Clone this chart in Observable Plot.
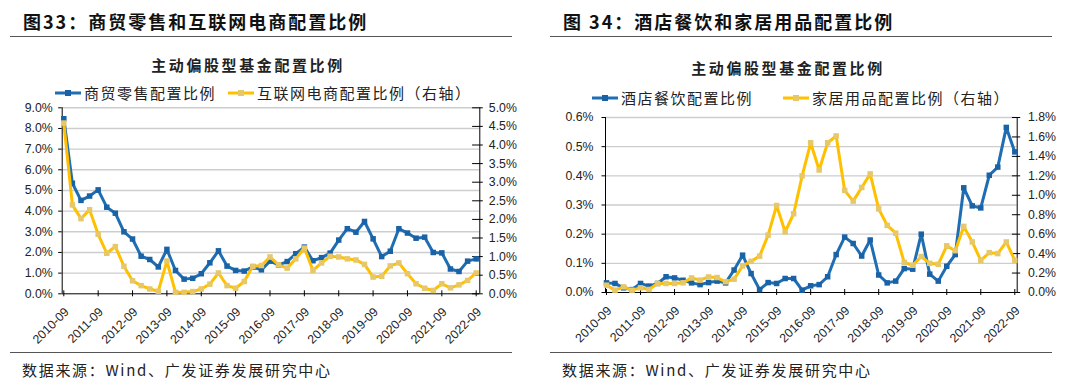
<!DOCTYPE html>
<html><head><meta charset="utf-8">
<script src="https://cdn.jsdelivr.net/npm/d3@7"></script>
<script src="https://cdn.jsdelivr.net/npm/@observablehq/plot@0.6"></script>
<style>
html,body{margin:0;padding:0;background:#fff;}
body{width:1080px;height:392px;overflow:hidden;position:relative;font-family:"Noto Sans CJK SC","Noto Sans",sans-serif;color:#222;}
.panel{position:absolute;top:0;width:540px;height:392px;}
.title{position:absolute;left:23px;top:9px;font-size:18px;line-height:24px;font-weight:700;color:#111;letter-spacing:2px;white-space:nowrap;}
.rule{position:absolute;left:10px;width:502px;height:0;border-top:1.6px solid #555;}
.sub{position:absolute;left:0;width:496px;text-align:center;font-size:15px;line-height:20px;font-weight:600;letter-spacing:2.6px;white-space:nowrap;}
.leg{position:absolute;font-size:15px;line-height:20px;letter-spacing:1.5px;white-space:nowrap;display:flex;align-items:center;}
.leg svg{margin-right:3px;}
.src{position:absolute;left:22px;top:360px;font-size:15px;line-height:20px;letter-spacing:1.7px;white-space:nowrap;color:#222;}
.plotwrap{position:absolute;left:0;width:540px;}
.plotwrap svg{max-width:none !important;display:block;}
</style>
</head><body>
<div id="root"></div>
<script>
const quarters = ["2010-09","2010-12","2011-03","2011-06","2011-09","2011-12","2012-03","2012-06","2012-09","2012-12","2013-03","2013-06","2013-09","2013-12","2014-03","2014-06","2014-09","2014-12","2015-03","2015-06","2015-09","2015-12","2016-03","2016-06","2016-09","2016-12","2017-03","2017-06","2017-09","2017-12","2018-03","2018-06","2018-09","2018-12","2019-03","2019-06","2019-09","2019-12","2020-03","2020-06","2020-09","2020-12","2021-03","2021-06","2021-09","2021-12","2022-03","2022-06","2022-09"];
const xTickLabels = ["2010-09","2011-09","2012-09","2013-09","2014-09","2015-09","2016-09","2017-09","2018-09","2019-09","2020-09","2021-09","2022-09"];

// Figure 33 (%)
const retail = [8.47,5.35,4.52,4.73,5.03,4.19,3.9,3.0,2.65,1.82,1.66,1.3,2.15,1.13,0.71,0.75,0.97,1.5,2.08,1.34,1.13,1.1,1.3,1.16,1.58,1.4,1.56,1.94,2.26,1.6,1.75,1.97,2.6,3.15,2.98,3.5,2.66,1.8,2.06,3.15,2.94,2.69,2.74,2.0,1.98,1.2,1.08,1.58,1.69];
const ecommerce = [4.59,2.39,2.02,2.26,1.6,1.09,1.27,0.74,0.35,0.22,0.13,0.07,0.88,0.04,0.04,0.06,0.13,0.26,0.56,0.22,0.15,0.33,0.74,0.76,0.99,0.78,0.69,0.94,1.23,0.63,0.83,1.01,0.99,0.94,0.91,0.79,0.45,0.47,0.75,0.83,0.54,0.27,0.15,0.09,0.27,0.16,0.24,0.36,0.56];
const fig33LeftTicks = [0,1,2,3,4,5,6,7,8,9];
const fig33RightTicks = [0,0.5,1,1.5,2,2.5,3,3.5,4,4.5,5];

// Figure 34 (%)
const catering = [0.033,0.031,0.016,0.01,0.031,0.022,0.031,0.054,0.05,0.042,0.033,0.027,0.034,0.039,0.033,0.077,0.128,0.065,0.01,0.034,0.031,0.048,0.048,0.008,0.023,0.027,0.054,0.13,0.19,0.168,0.125,0.18,0.06,0.033,0.039,0.082,0.08,0.2,0.063,0.039,0.09,0.13,0.359,0.297,0.29,0.402,0.43,0.566,0.482];
const household = [0.075,0.024,0.058,0.024,0.048,0.031,0.093,0.093,0.093,0.1,0.15,0.127,0.16,0.154,0.11,0.137,0.274,0.32,0.374,0.59,0.895,0.624,0.81,1.2,1.54,1.26,1.54,1.61,1.05,0.94,1.08,1.22,0.86,0.69,0.61,0.31,0.28,0.37,0.3,0.29,0.48,0.43,0.68,0.52,0.33,0.41,0.4,0.52,0.33];
const fig34LeftTicks = [0,0.1,0.2,0.3,0.4,0.5,0.6];
const fig34RightTicks = [0,0.2,0.4,0.6,0.8,1.0,1.2,1.4,1.6,1.8];

const BLUE = "#1f6db2", BLUE_MK = "#1a62a6", YELLOW = "#ffc000", YELLOW_MK = "#e6c86a";
const FONT = "'Liberation Sans', Arial, sans-serif";
const FS = 12.3;

function legendSample(line, mk){
  return `<svg width="26" height="10"><line x1="0" y1="5" x2="26" y2="5" stroke="${line}" stroke-width="3"/><rect x="10" y="2" width="6" height="6" fill="${mk}"/></svg>`;
}

function makePlot(cfg){
  const k = cfg.leftMax / cfg.rightMax;
  const n = quarters.length - 1;
  const rows = quarters.map((q,i)=>({i, q, a: cfg.a[i], b: cfg.b[i]*k}));
  const leftLab = cfg.leftTicks.map(v => ({v, t: v.toFixed(1) + "%"}));
  const rightLab = cfg.rightTicks.map(v => ({v: v * k, t: v.toFixed(1) + "%"}));
  const xLab = xTickLabels.map(q => ({i: quarters.indexOf(q), q, v: 0}));
  const W = 540;
  const gl = cfg.x0 - cfg.axL, gr = cfg.axR - cfg.x1;
  return Plot.plot({
    width: W, height: cfg.height,
    marginLeft: cfg.x0, marginRight: W - cfg.x1, marginTop: cfg.mt, marginBottom: cfg.height - cfg.mt - cfg.ih,
    x: {type: "linear", domain: [0, n], axis: null},
    y: {domain: [0, cfg.leftMax], axis: null},
    style: {fontFamily: FONT, fontSize: FS + "px", color: "#222", background: "transparent", overflow: "visible", maxWidth: "none"},
    marks: [
      // gridlines across the full frame
      Plot.ruleY(cfg.leftTicks.slice(1), {y: d => d, x1: () => 0, x2: () => n, insetLeft: -gl, insetRight: -gr, stroke: "#cdcdcd", strokeWidth: 1.4}),
      // axis lines
      Plot.ruleX([0], {x: d => d, dx: -gl, stroke: "#000", strokeWidth: 1}),
      Plot.ruleX([n], {x: d => d, dx: gr, stroke: "#000", strokeWidth: 1}),
      Plot.ruleY([0], {y: d => d, x1: () => 0, x2: () => n, insetLeft: -gl, insetRight: -gr, stroke: "#000", strokeWidth: 1}),
      // tick marks
      Plot.ruleY(leftLab, {y: "v", x1: () => 0, x2: () => 0, insetLeft: -gl - 3.5, insetRight: gl, stroke: "#000", strokeWidth: 1}),
      Plot.ruleY(rightLab, {y: "v", x1: () => n, x2: () => n, insetLeft: -gr, insetRight: -gr - 3.5, stroke: "#000", strokeWidth: 1}),
      Plot.ruleX(xLab, {x: "i", y1: "v", y2: "v", insetTop: -3, insetBottom: -3, stroke: "#000", strokeWidth: 1}),
      // tick labels
      Plot.text(leftLab, {x: () => 0, y: "v", text: "t", textAnchor: "end", dx: cfg.labL - cfg.x0, fontSize: FS, fontFamily: FONT, fill: "#222"}),
      Plot.text(rightLab, {x: () => n, y: "v", text: "t", textAnchor: "start", dx: cfg.labR - cfg.x1, fontSize: FS, fontFamily: FONT, fill: "#222"}),
      Plot.text(xLab, {x: "i", y: "v", text: "q", rotate: -45, textAnchor: "end", dx: 3, dy: 16, fontSize: FS, fontFamily: FONT, fill: "#222"}),
      // series (right-axis series drawn on top)
      Plot.line(rows, {x: "i", y: "a", stroke: BLUE, strokeWidth: 3}),
      Plot.dot(rows, {x: "i", y: "a", symbol: "square", r: 3.1, fill: BLUE_MK, stroke: "none"}),
      Plot.line(rows, {x: "i", y: "b", stroke: YELLOW, strokeWidth: 3}),
      Plot.dot(rows, {x: "i", y: "b", symbol: "square", r: 3.1, fill: YELLOW_MK, stroke: "none"})
    ]
  });
}

function buildPanel(p){
  const panel = document.createElement("div");
  panel.className = "panel";
  panel.style.left = p.left + "px";
  panel.innerHTML = `
    <div class="title">${p.title}</div>
    <div class="rule" style="top:36px"></div>
    <div class="sub" style="top:${p.subY - 10}px">${p.sub}</div>
    <div class="leg" style="left:${p.leg1x}px;top:${p.legY - 10}px">${legendSample(BLUE, BLUE_MK)}<span>${p.name1}</span></div>
    <div class="leg" style="left:${p.leg2x}px;top:${p.legY - 10}px">${legendSample(YELLOW, YELLOW_MK)}<span>${p.name2}</span></div>
    <div class="rule" style="top:352px"></div>
    <div class="src">数据来源：Wind、广发证券发展研究中心</div>`;
  const wrap = document.createElement("div");
  wrap.className = "plotwrap";
  wrap.style.top = p.plotTop + "px";
  wrap.appendChild(makePlot(p.plot));
  panel.appendChild(wrap);
  document.getElementById("root").appendChild(panel);
}

buildPanel({
  left: 0, title: "图33：商贸零售和互联网电商配置比例", sub: "主动偏股型基金配置比例",
  subY: 65, legY: 93, leg1x: 55, leg2x: 228,
  name1: "商贸零售配置比例", name2: "互联网电商配置比例（右轴）",
  plotTop: 98,
  plot: {a: retail, b: ecommerce, leftMax: 9, rightMax: 5, leftTicks: fig33LeftTicks, rightTicks: fig33RightTicks,
         height: 250, mt: 9.3, ih: 186, axL: 61.7, axR: 479.3, x0: 63.3, x1: 475.7, labL: 52.2, labR: 488.3}
});
buildPanel({
  left: 540, title: "图 34：酒店餐饮和家居用品配置比例", sub: "主动偏股型基金配置比例",
  subY: 68, legY: 97.5, leg1x: 52, leg2x: 243,
  name1: "酒店餐饮配置比例", name2: "家居用品配置比例（右轴）",
  plotTop: 106,
  plot: {a: catering, b: household, leftMax: 0.6, rightMax: 1.8, leftTicks: fig34LeftTicks, rightTicks: fig34RightTicks,
         height: 242, mt: 11, ih: 175, axL: 65, axR: 476.7, x0: 66, x1: 474.3, labL: 53, labR: 487.5}
});
</script>
</body></html>
